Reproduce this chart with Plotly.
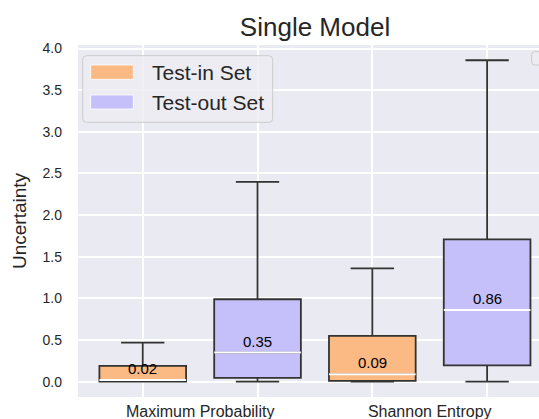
import plotly.graph_objects as go

# ---- data ----
categories = ["Maximum Probability", "Shannon Entropy"]
groups = ["Test-in Set", "Test-out Set"]
# per group, per category
lower_whisker = {"Test-in Set": [0.0, 0.0], "Test-out Set": [0.0, 0.0]}
q1 = {"Test-in Set": [0.0, 0.01], "Test-out Set": [0.045, 0.195]}
median = {"Test-in Set": [0.02, 0.09], "Test-out Set": [0.35, 0.86]}
q3 = {"Test-in Set": [0.19, 0.55], "Test-out Set": [0.99, 1.71]}
upper_whisker = {"Test-in Set": [0.47, 1.36], "Test-out Set": [2.40, 3.86]}
yticks = [0.0, 0.5, 1.0, 1.5, 2.0, 2.5, 3.0, 3.5, 4.0]

fill_colors = {"Test-in Set": "#FBB983", "Test-out Set": "#C5C0F9"}
edge = "#333333"
txt = "#262626"
FONT = "Arial, Liberation Sans, sans-serif"

W, H = 539, 419
ML, MR, MT, MB = 78, 0, 45, 22
BOXW = 0.755

fig = go.Figure()
positions = []
for ci, cat in enumerate(categories):
    for gi, g in enumerate(groups):
        pos = ci * 2 + gi
        positions.append(pos)
        fig.add_trace(go.Box(
            x=[pos], q1=[q1[g][ci]], median=[median[g][ci]], q3=[q3[g][ci]],
            lowerfence=[lower_whisker[g][ci]], upperfence=[upper_whisker[g][ci]],
            width=BOXW, whiskerwidth=0.5, fillcolor=fill_colors[g],
            line=dict(color=edge, width=1.8), boxpoints=False,
            name=g, showlegend=False,
        ))
        m = median[g][ci]
        fig.add_trace(go.Scatter(
            x=[pos - BOXW / 2, pos + BOXW / 2], y=[m, m], mode="lines",
            line=dict(color="white", width=2), showlegend=False, hoverinfo="skip",
        ))
        fig.add_annotation(
            x=pos, y=m, text=f"{m:.2f}", showarrow=False, yanchor="bottom",
            yshift=1, font=dict(family=FONT, size=15, color="black"),
        )

# pixel -> paper helpers
pw = W - ML - MR
ph = H - MT - MB
def px(x):
    return (x - ML) / pw
def py(y):
    return (H - MB - y) / ph

def rrect(x0, y0, x1, y1, r):
    rx = r / pw
    ry = r / ph
    X0, X1 = px(x0), px(x1)
    Y0, Y1 = py(y0), py(y1)  # Y0 top (higher), Y1 bottom
    return (f"M {X0+rx},{Y0} L {X1-rx},{Y0} Q {X1},{Y0} {X1},{Y0-ry} "
            f"L {X1},{Y1+ry} Q {X1},{Y1} {X1-rx},{Y1} L {X0+rx},{Y1} "
            f"Q {X0},{Y1} {X0},{Y1+ry} L {X0},{Y0-ry} Q {X0},{Y0} {X0+rx},{Y0} Z")

shapes = []
# main legend frame
shapes.append(dict(type="path", xref="paper", yref="paper",
                   path=rrect(82.7, 55.7, 272.7, 122.3, 4),
                   fillcolor="rgba(236,236,242,0.85)", line=dict(color="#cccccc", width=1)))
# empty legend frame at right
shapes.append(dict(type="path", xref="paper", yref="paper",
                   path=rrect(531.7, 51.7, 548, 65, 3),
                   fillcolor="rgba(236,236,242,0.85)", line=dict(color="#cccccc", width=1)))
patch_y = [(65, 79.3), (95, 109)]
for gi, g in enumerate(groups):
    y0, y1 = patch_y[gi]
    shapes.append(dict(type="rect", xref="paper", yref="paper",
                       x0=px(90.7), x1=px(133.3), y0=py(y1), y1=py(y0),
                       fillcolor=fill_colors[g], line=dict(color="white", width=0.8)))
    fig.add_annotation(xref="paper", yref="paper", x=px(150), y=py((y0 + y1) / 2),
                       text=g, showarrow=False, xanchor="left", yanchor="middle",
                       font=dict(family=FONT, size=21, color=txt))

fig.update_layout(
    width=W, height=H, margin=dict(l=ML, r=MR, t=MT, b=MB),
    paper_bgcolor="white", plot_bgcolor="#EAEAF2",
    showlegend=False, shapes=shapes,
    title=dict(text="Single Model", x=315 / W, xanchor="center", xref="paper",
               y=1 - 27 / H, yanchor="middle", yref="container",
               font=dict(family=FONT, size=26, color=txt)),
    font=dict(family=FONT, color=txt),
)
fig.update_layout(title_x=(315 - ML) / pw)
fig.update_xaxes(
    range=[-0.564, 3.452], tickmode="array",
    tickvals=[ci * 2 + 0.5 for ci in range(len(categories))], ticktext=categories,
    showgrid=False, zeroline=False, ticks="", ticklabelstandoff=3,
    tickfont=dict(family=FONT, size=16, color=txt),
    minor=dict(tickmode="array", tickvals=positions, showgrid=True,
               gridcolor="white", gridwidth=1.5, ticks=""),
)
fig.update_yaxes(
    range=[-0.184, 4.043], tickmode="array", tickvals=yticks,
    ticktext=[f"{v:.1f}" for v in yticks],
    showgrid=True, gridcolor="white", gridwidth=1.5, zeroline=False, ticks="",
    ticklabelstandoff=15, tickfont=dict(family=FONT, size=14, color=txt),
    title=dict(text="Uncertainty", font=dict(family=FONT, size=19, color=txt), standoff=10),
)
fig.write_html("out.html")
